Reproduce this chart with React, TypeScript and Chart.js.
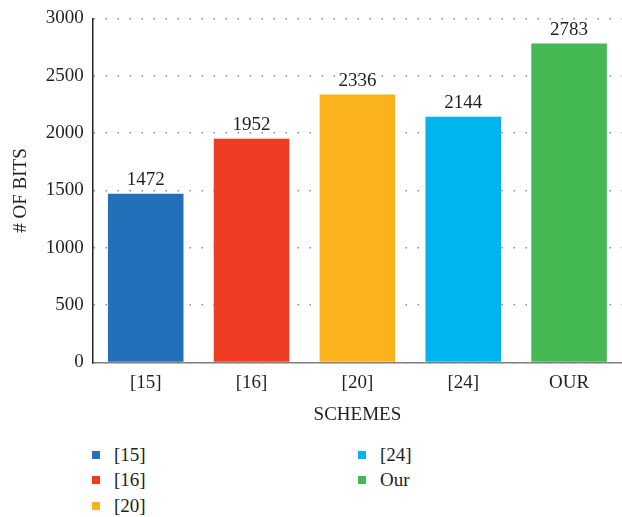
import React, { useEffect, useRef } from "react";
import { Chart, registerables } from "chart.js";

Chart.register(...registerables);

const categories = ["[15]", "[16]", "[20]", "[24]", "OUR"];
const legendLabels = ["[15]", "[16]", "[20]", "[24]", "Our"];
const bitValues = [1472, 1952, 2336, 2144, 2783];
const barColors = ["#246FB9", "#EE3C25", "#FBB31D", "#00B4F0", "#44B853"];
const yTicks = [0, 500, 1000, 1500, 2000, 2500, 3000];

const FONT = "'Liberation Serif', 'Times New Roman', serif";
const TEXT = "#231F20";
const FS = 19;

const valueLabelPlugin = {
  id: "valueLabels",
  afterDatasetsDraw(chart: any) {
    const ctx = chart.ctx;
    const meta = chart.getDatasetMeta(0);
    ctx.save();
    ctx.font = `${FS}px ${FONT}`;
    ctx.fillStyle = TEXT;
    ctx.textAlign = "center";
    ctx.textBaseline = "bottom";
    meta.data.forEach((bar: any, i: number) => {
      ctx.fillText(String(bitValues[i]), bar.x, bar.y - 4);
    });
    ctx.restore();
  },
};

export default function App() {
  const ref = useRef<HTMLCanvasElement>(null);
  useEffect(() => {
    if (!ref.current) return;
    const chart = new Chart(ref.current, {
      type: "bar",
      data: {
        labels: categories,
        datasets: [
          {
            data: bitValues,
            backgroundColor: barColors,
            barPercentage: 0.714,
            categoryPercentage: 1,
          },
        ],
      },
      options: {
        animation: false,
        responsive: false,
        layout: { padding: { top: 0, right: 0, bottom: 6, left: 10 } },
        plugins: { legend: { display: false }, tooltip: { enabled: false } },
        scales: {
          x: {
            grid: { display: false, drawTicks: false },
            border: { display: true, color: "#808080", width: 1.5 },
            ticks: { color: TEXT, font: { family: FONT, size: FS }, padding: 9 },
            title: {
              display: true,
              text: "SCHEMES",
              color: TEXT,
              font: { family: FONT, size: FS },
              padding: { top: 0, bottom: 0 },
            },
          },
          y: {
            min: 0,
            max: 3000,
            afterBuildTicks(axis: any) {
              axis.ticks = yTicks.map((v) => ({ value: v }));
            },
            grid: { display: true, drawTicks: false, color: "#8a8a8a", lineWidth: 1.5 },
            border: { display: true, color: "#231F20", width: 1.5, dash: [1.5, 10.5] },
            ticks: {
              color: TEXT,
              font: { family: FONT, size: FS, lineHeight: 1 },
              padding: 9,
              callback: (v: any) => String(v),
            },
            title: {
              display: true,
              text: "# OF BITS",
              color: TEXT,
              font: { family: FONT, size: FS },
              padding: { top: 0, bottom: 4 },
            },
          },
        },
      },
      plugins: [valueLabelPlugin],
    });
    return () => chart.destroy();
  }, []);

  return (
    <div style={{ position: "absolute", left: 0, top: 0, width: 622, height: 517, background: "#fff" }}>
      <canvas ref={ref} width={622} height={432} style={{ display: "block" }} />
      <div
        style={{
          position: "absolute",
          left: 92,
          top: 442,
          display: "grid",
          gridTemplateRows: "repeat(3, 25.5px)",
          gridTemplateColumns: "266px 200px",
          gridAutoFlow: "column",
          fontFamily: FONT,
          fontSize: FS,
          color: TEXT,
        }}
      >
        {legendLabels.map((name, i) => (
          <div key={name} style={{ display: "flex", alignItems: "center" }}>
            <span style={{ width: 8, height: 8, background: barColors[i], display: "inline-block", marginRight: 14 }} />
            <span>{name}</span>
          </div>
        ))}
      </div>
    </div>
  );
}
